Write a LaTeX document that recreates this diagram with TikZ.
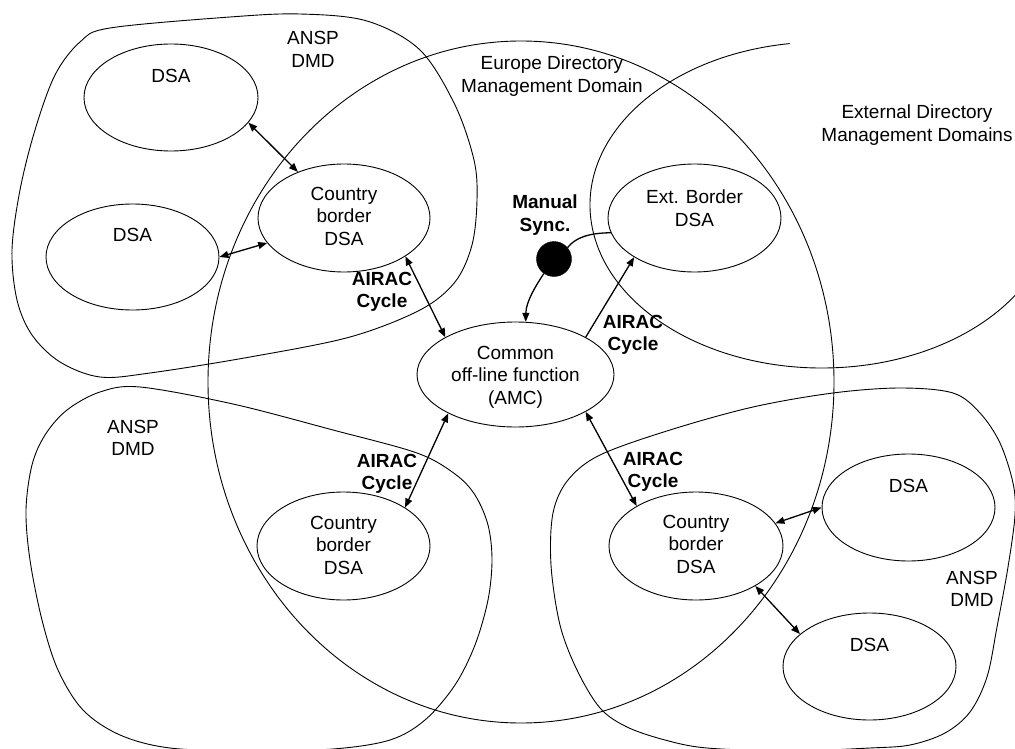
\documentclass[tikz,border=0pt]{standalone}
\usepackage{fontspec}
\setmainfont{Liberation Sans}
\usetikzlibrary{shapes.geometric,arrows.meta}
\begin{document}
\begin{tikzpicture}[x=1pt,y=-1pt,
  region/.style={draw=black, line width=0.9pt},
  dsabox/.style={draw=black, ellipse, line width=0.9pt, inner sep=0pt, minimum width=173pt, minimum height=107pt},
  txt/.style={align=center, inner sep=0pt, font=\fontsize{19}{22.5}\selectfont},
  btxt/.style={align=center, inner sep=0pt, font=\fontsize{19}{22.5}\selectfont\bfseries},
  tip/.tip={Triangle[length=9pt,width=7pt]},
  link/.style={line width=1.3pt, tip-tip},
  onelink/.style={line width=1.3pt, -tip},
  syncline/.style={line width=1.3pt}
]
\useasboundingbox (0,0) rectangle (1015,749);

% domains
\draw[region] plot[smooth cycle, tension=0.55] coordinates {
  (110,28) (230,17) (300,14) (367,21) (420,50) (455,105) (474,160) (477,200)
  (472,245) (455,282) (420,310) (350,337) (250,357) (150,373) (100,377)
  (60,362) (32,335) (17,300) (12,250) (20,190) (35,130) (55,75) (80,42)};
\draw[region] plot[smooth cycle, tension=0.55] coordinates {
  (140,387) (233,404) (333,430) (417,453) (455,474) (475,495) (488,525)
  (492,560) (488,600) (475,645) (455,685) (425,720) (390,740) (333,749)
  (250,751) (170,748) (120,735) (83,710) (58,670) (42,620) (30,560)
  (26,510) (32,465) (45,435) (67,410) (100,392)};
\draw[region] plot[smooth cycle, tension=0.55] coordinates {
  (900,388) (953,393) (980,413) (1000,443) (1013,483) (1015,515) (1008,567)
  (997,627) (987,677) (970,712) (945,733) (910,745) (870,748) (790,751)
  (707,748) (665,740) (627,727) (600,708) (577,670) (560,625) (551,565)
  (553,513) (568,480) (600,455) (670,430) (753,407) (833,393)};
\draw[region] (521,382) ellipse [x radius=313, y radius=341];
\draw[region] (822,205) ++(262:232 and 163)
  arc [start angle=262, end angle=33, x radius=232, y radius=163];

% domain labels
\node[txt] (ansp1) at (313,49.5) {ANSP\\DMD};
\node[txt] (ansp2) at (133,438) {ANSP\\DMD};
\node[txt] (ansp3) at (972,589) {ANSP\\DMD};
\node[txt] (eur) at (552,76) {Europe Directory\\Management Domain};
\node[txt] (extdom) at (917,125) {External Directory\\Management Domains};

% DSAs
\node[dsabox, minimum width=174pt] (dsa1) at (171,97.5) {};
\node[dsabox, minimum height=106pt] (dsa2) at (132.5,257) {};
\node[dsabox, minimum width=172pt, minimum height=108pt] (cb1) at (344,218) {};
\node[dsabox, minimum height=108pt] (ext) at (694.5,218) {};
\node[dsabox, minimum width=197pt, minimum height=105pt] (amc) at (515.5,374.5) {};
\node[dsabox, minimum height=108pt] (cb2) at (343.5,546) {};
\node[dsabox, minimum width=174pt, minimum height=108pt] (cb3) at (696,546) {};
\node[dsabox] (dsa3) at (908.5,507.5) {};
\node[dsabox] (dsa4) at (869.5,666.5) {};

\node[txt] (dsa1t) at (171,76) {DSA};
\node[txt] (dsa2t) at (132.5,235) {DSA};
\node[txt] (dsa3t) at (908.5,486) {DSA};
\node[txt] (dsa4t) at (869.5,645) {DSA};
\node[txt] (cb1t) at (344,216) {Country\\border\\DSA};
\node[txt] (cb2t) at (343.5,545) {Country\\border\\DSA};
\node[txt] (cb3t) at (696,544) {Country\\border\\DSA};
\node[txt] (extt) at (694.5,208) {Ext. Border\\DSA};
\node[txt] (amct) at (515.5,377) {Common\\off-line function\\(AMC)};

% manual sync
\node[circle, fill=black, draw=black, minimum size=35pt, inner sep=0pt] (dot) at (554,259) {};
\node[btxt] (manual) at (545,215) {Manual\\Sync.};
\draw[syncline] (ext.190) .. controls (588,233) and (575,238) .. (dot.40);
\draw[onelink] (dot.235) .. controls (535,287) and (526,302) .. (amc.79);

% links
\draw[link] (dsa1.-18) -- (cb1.135);
\draw[link] (dsa2.east) -- (cb1.198);
\draw[link] (cb1.-32) -- (amc.152);
\draw[link] (amc.210) -- (cb2.32);
\draw[link] (amc.-28) -- (cb3.146);
\draw[link] (cb3.16) -- (dsa3.west);
\draw[link] (cb3.-34) -- (dsa4.155);
\draw[onelink] (amc.28) -- (ext.213);

% AIRAC labels
\node[btxt] (air1) at (382,292) {AIRAC\\Cycle};
\node[btxt] (air2) at (387,474) {AIRAC\\Cycle};
\node[btxt] (air3) at (653,472) {AIRAC\\Cycle};
\node[btxt] (air4) at (633,335) {AIRAC\\Cycle};
\end{tikzpicture}
\end{document}
